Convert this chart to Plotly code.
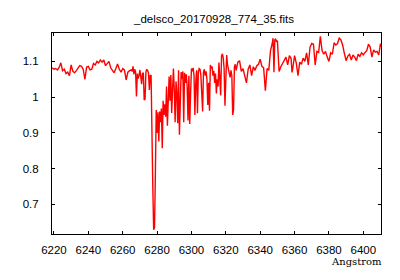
import plotly.graph_objects as go

# Wavelength (Angstrom) and normalised flux
wave_a = [6219, 6220, 6221, 6222, 6223, 6224, 6225, 6226, 6227, 6228, 6229, 6230,
          6231, 6232, 6233, 6234, 6235, 6236, 6237, 6238, 6239, 6240, 6241, 6242,
          6243, 6244, 6245, 6246, 6247, 6248, 6249, 6250, 6251, 6252, 6253, 6254,
          6255, 6256, 6257, 6258, 6259, 6260, 6261, 6262, 6263, 6264, 6265]
flux_a = [1.082, 1.078, 1.080, 1.076, 1.083, 1.096, 1.074, 1.078, 1.066, 1.070, 1.060, 1.090,
          1.072, 1.068, 1.074, 1.082, 1.088, 1.086, 1.078, 1.050, 1.084, 1.086, 1.076, 1.078,
          1.094, 1.090, 1.100, 1.096, 1.104, 1.098, 1.104, 1.088, 1.096, 1.100, 1.082, 1.076,
          1.068, 1.080, 1.093, 1.078, 1.070, 1.080, 1.076, 1.048, 1.070, 1.074, 1.076]

wave_b = [6265.5, 6266, 6266.5, 6267, 6267.5, 6268, 6268.5, 6269, 6269.5, 6270, 6270.5,
          6271, 6271.5, 6272, 6272.5, 6273, 6273.5, 6274, 6274.5, 6275, 6275.5, 6276,
          6276.5, 6277, 6277.5, 6278, 6278.5, 6279, 6279.5, 6280, 6280.5, 6281, 6281.5,
          6282, 6282.5, 6283, 6283.5, 6284, 6284.5, 6285, 6285.5, 6286, 6286.5, 6287,
          6287.5, 6288, 6288.5, 6289, 6289.5, 6290, 6290.5, 6291, 6291.5, 6292, 6292.5,
          6293, 6293.5, 6294, 6294.5, 6295, 6295.5, 6296, 6296.5, 6297, 6297.5, 6298,
          6298.5, 6299, 6299.5, 6300, 6300.5, 6301, 6301.5, 6302, 6302.5, 6303, 6303.5,
          6304, 6304.5, 6305, 6305.5, 6306, 6306.5, 6307, 6307.5, 6308, 6308.5, 6309,
          6309.5, 6310, 6310.5, 6311, 6311.5, 6312, 6312.5, 6313, 6313.5, 6314, 6314.5,
          6315, 6315.5, 6316, 6316.5, 6317, 6317.5, 6318, 6318.5, 6319, 6319.5, 6320,
          6320.5, 6321, 6321.5, 6322, 6322.5, 6323, 6323.5, 6324, 6324.5, 6325, 6325.5, 6326]
flux_b = [1.072, 1.086, 1.064, 1.078, 1.070, 1.002, 1.066, 1.052, 1.060, 1.076, 1.058,
          1.036, 1.066, 1.068, 0.992, 0.994, 1.070, 1.078, 1.074, 1.068, 1.020, 1.060,
          1.062, 0.815, 0.750, 0.629, 0.635, 0.783, 0.964, 0.900, 0.958, 0.876, 0.960,
          0.930, 0.968, 0.857, 0.990, 0.950, 0.980, 0.945, 1.030, 0.920, 0.985, 1.058,
          0.990, 1.062, 0.956, 1.000, 1.080, 1.020, 0.930, 1.044, 1.010, 0.927, 1.075,
          0.895, 1.000, 1.070, 1.050, 1.072, 0.930, 1.068, 1.040, 1.064, 1.030, 0.935,
          1.060, 0.925, 1.010, 1.080, 1.072, 1.082, 1.060, 0.950, 1.040, 1.075, 0.955,
          1.070, 1.080, 1.078, 1.060, 0.978, 0.960, 1.070, 1.078, 1.060, 1.072, 1.050,
          0.978, 1.040, 0.962, 1.090, 1.080, 1.086, 1.060, 1.074, 1.040, 1.066, 1.010,
          1.050, 1.030, 1.097, 1.060, 1.005, 1.115, 1.121, 1.110, 1.080, 0.976, 1.060,
          1.118, 1.090, 1.080, 1.070, 1.055, 1.075, 1.060, 0.950, 0.965, 1.085, 1.092, 1.075]

wave_c = [6327, 6328, 6329, 6330, 6331, 6332, 6333, 6334, 6335, 6336, 6337, 6338,
          6339, 6340, 6341, 6342, 6343, 6344, 6345, 6346, 6347, 6347.5, 6348, 6348.5,
          6349, 6349.5, 6350, 6351, 6352, 6353, 6354, 6355, 6356, 6357, 6358, 6358.5,
          6359, 6360, 6361, 6362, 6363, 6364, 6365, 6366, 6367, 6368, 6369, 6370,
          6371, 6372, 6373, 6374, 6375, 6376, 6377, 6378, 6379, 6380, 6381, 6382,
          6383, 6384, 6385, 6386, 6387, 6388, 6389, 6390, 6391, 6392, 6393, 6394,
          6395, 6396, 6397, 6398, 6399, 6400, 6401, 6402, 6403, 6404, 6405, 6406,
          6407, 6408, 6409, 6410, 6410.3]
flux_c = [1.098, 1.102, 1.072, 1.080, 1.058, 1.040, 1.078, 1.090, 1.060, 1.085, 1.075, 1.088,
          1.092, 1.106, 1.086, 1.082, 1.018, 1.080, 1.075, 1.130, 1.150, 1.165, 1.070, 1.160,
          1.162, 1.155, 1.158, 1.072, 1.085, 1.094, 1.100, 1.112, 1.090, 1.116, 1.108, 1.069,
          1.082, 1.116, 1.095, 1.060, 1.098, 1.092, 1.109, 1.100, 1.124, 1.090, 1.140, 1.150,
          1.148, 1.090, 1.128, 1.125, 1.170, 1.130, 1.120, 1.128, 1.112, 1.100, 1.124, 1.120,
          1.152, 1.146, 1.150, 1.165, 1.160, 1.145, 1.122, 1.102, 1.115, 1.120, 1.104, 1.118,
          1.112, 1.102, 1.120, 1.114, 1.124, 1.118, 1.125, 1.130, 1.148, 1.140, 1.112, 1.132,
          1.126, 1.128, 1.118, 1.150, 1.140]

wave = wave_a + wave_b + wave_c
flux = flux_a + flux_b + flux_c

x_ticks = [6220, 6240, 6260, 6280, 6300, 6320, 6340, 6360, 6380, 6400]
y_ticks = [0.7, 0.8, 0.9, 1.0, 1.1]
y_tick_text = ["0.7", "0.8", "0.9", "1", "1.1"]

fig = go.Figure()
fig.add_trace(go.Scatter(x=wave, y=flux, mode="lines",
                         line=dict(color="#ff0000", width=1.4),
                         showlegend=False, hoverinfo="skip"))

axis_font = dict(family="Liberation Sans, Arial, sans-serif", size=11.5, color="#000000")

# page body adds an 8px offset; figure sized so the whole page is 400x280
W, H = 392, 272
fig.update_layout(
    width=W, height=H,
    margin=dict(l=44.3, r=19, t=25.3, b=45.7),
    paper_bgcolor="white", plot_bgcolor="white",
    title=dict(text="_delsco_20170928_774_35.fits", xref="container", yref="container",
               x=206 / W, xanchor="center", y=1 - 11 / H, yanchor="middle",
               font=dict(family="Liberation Sans, Arial, sans-serif", size=11.5, color="#000000")),
    xaxis=dict(range=[6218.85, 6410.3], tickvals=x_ticks, ticks="inside", ticklen=3,
               tickcolor="black", showline=True, linecolor="black", linewidth=1,
               mirror="ticks", showgrid=False, zeroline=False, tickfont=axis_font,
               ticklabelstandoff=5),
    yaxis=dict(range=[0.6172, 1.1794], tickvals=y_ticks, ticktext=y_tick_text,
               ticks="inside", ticklen=3, tickcolor="black", showline=True,
               linecolor="black", linewidth=1, mirror="ticks", showgrid=False,
               zeroline=False, tickfont=axis_font, ticklabelstandoff=10),
    annotations=[dict(text="Angstrom", xref="paper", yref="paper",
                      x=(384 - 52.3) / (381 - 52.3), xanchor="right",
                      y=-(262 - 234.3) / 201, yanchor="middle", showarrow=False,
                      font=dict(family="DejaVu Serif, Liberation Serif, serif", size=10,
                                color="#000000"))],
)

fig.write_html("out.html")
